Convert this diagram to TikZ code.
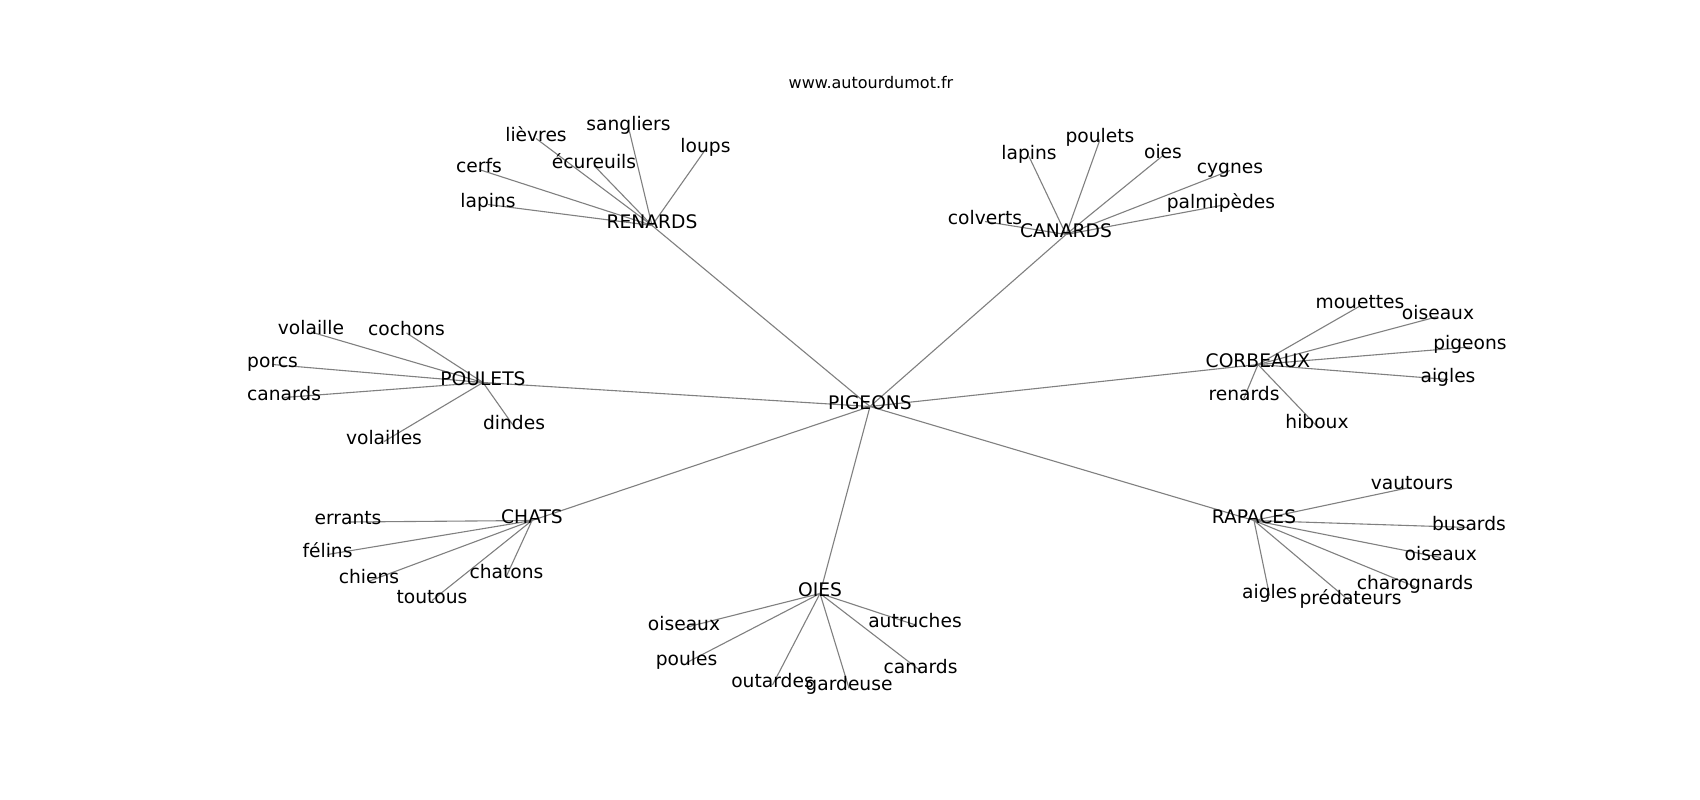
\documentclass[tikz,border=0pt]{standalone}
\usepackage{fontspec}
\setmainfont{DejaVu Sans}
\pgfdeclarelayer{bg}
\pgfdeclarelayer{paper}
\pgfsetlayers{paper,bg,main}
\tikzset{
  lab/.style={inner sep=0pt, anchor=center, yshift=-4.5pt, font=\fontsize{18.67}{20}\selectfont, text height=0.76em, text depth=0.24em, text=black},
  ttl/.style={inner sep=0pt, anchor=center, font=\fontsize{16}{18}\selectfont, text=black},
  edge/.style={draw=gray, line width=1.1pt}
}
\begin{document}
\begin{tikzpicture}[x=1pt,y=-1pt]
\begin{pgfonlayer}{paper}
\fill[white] (0,0) rectangle (1700,800);
\end{pgfonlayer}
\useasboundingbox (0,0) rectangle (1700,800);
\node[ttl] (title) at (871,83) {www.autourdumot.fr};
% centre
\node[lab] (pig) at (870,402) {PIGEONS};
% hubs
\node[lab] (ren) at (652,221) {RENARDS};
\node[lab] (can) at (1066,230) {CANARDS};
\node[lab] (pou) at (483,378) {POULETS};
\node[lab] (cor) at (1258,360) {CORBEAUX};
\node[lab] (cha) at (532,516) {CHATS};
\node[lab] (oie) at (820,589) {OIES};
\node[lab] (rap) at (1254,516) {RAPACES};
% RENARDS leaves
\node[lab] (r1) at (488,200) {lapins};
\node[lab] (r2) at (479,165) {cerfs};
\node[lab] (r3) at (536,134) {lièvres};
\node[lab] (r4) at (594,161) {écureuils};
\node[lab] (r5) at (628.5,123) {sangliers};
\node[lab] (r6) at (705.5,145) {loups};
% CANARDS leaves
\node[lab] (c1) at (985,217) {colverts};
\node[lab] (c2) at (1029,152) {lapins};
\node[lab] (c3) at (1100,135) {poulets};
\node[lab] (c4) at (1163,151) {oies};
\node[lab] (c5) at (1230,166) {cygnes};
\node[lab] (c6) at (1221,201) {palmipèdes};
% POULETS leaves
\node[lab] (p1) at (311,327.5) {volaille};
\node[lab] (p2) at (406.5,328.5) {cochons};
\node[lab] (p3) at (272.5,360) {porcs};
\node[lab] (p4) at (284,393) {canards};
\node[lab] (p5) at (384,437) {volailles};
\node[lab] (p6) at (514,422) {dindes};
% CORBEAUX leaves
\node[lab] (k1) at (1360,301.5) {mouettes};
\node[lab] (k2) at (1438,312) {oiseaux};
\node[lab] (k3) at (1470,342.5) {pigeons};
\node[lab] (k4) at (1448,375) {aigles};
\node[lab] (k5) at (1244,393.5) {renards};
\node[lab] (k6) at (1317,421.7) {hiboux};
% CHATS leaves
\node[lab] (h1) at (348,517.5) {errants};
\node[lab] (h2) at (327.5,550) {félins};
\node[lab] (h3) at (369,576.7) {chiens};
\node[lab] (h4) at (432,596) {toutous};
\node[lab] (h5) at (506.5,571.5) {chatons};
% OIES leaves
\node[lab] (o1) at (684,623.3) {oiseaux};
\node[lab] (o2) at (686.5,658.2) {poules};
\node[lab] (o3) at (772.5,680.5) {outardes};
\node[lab] (o4) at (849,683.7) {gardeuse};
\node[lab] (o5) at (920.5,666.3) {canards};
\node[lab] (o6) at (915,620.3) {autruches};
% RAPACES leaves
\node[lab] (a1) at (1412,482.5) {vautours};
\node[lab] (a2) at (1469,523) {busards};
\node[lab] (a3) at (1440.7,553) {oiseaux};
\node[lab] (a4) at (1415,582.2) {charognards};
\node[lab] (a5) at (1350.5,597.3) {prédateurs};
\node[lab] (a6) at (1269.6,591.2) {aigles};
\begin{pgfonlayer}{bg}
\foreach \h in {ren,can,pou,cor,cha,oie,rap} \draw[edge] (pig.center) -- (\h.center);
\foreach \l in {r1,r2,r3,r4,r5,r6} \draw[edge] (ren.center) -- (\l.center);
\foreach \l in {c1,c2,c3,c4,c5,c6} \draw[edge] (can.center) -- (\l.center);
\foreach \l in {p1,p2,p3,p4,p5,p6} \draw[edge] (pou.center) -- (\l.center);
\foreach \l in {k1,k2,k3,k4,k5,k6} \draw[edge] (cor.center) -- (\l.center);
\foreach \l in {h1,h2,h3,h4,h5} \draw[edge] (cha.center) -- (\l.center);
\foreach \l in {o1,o2,o3,o4,o5,o6} \draw[edge] (oie.center) -- (\l.center);
\foreach \l in {a1,a2,a3,a4,a5,a6} \draw[edge] (rap.center) -- (\l.center);
\end{pgfonlayer}
\end{tikzpicture}
\end{document}
